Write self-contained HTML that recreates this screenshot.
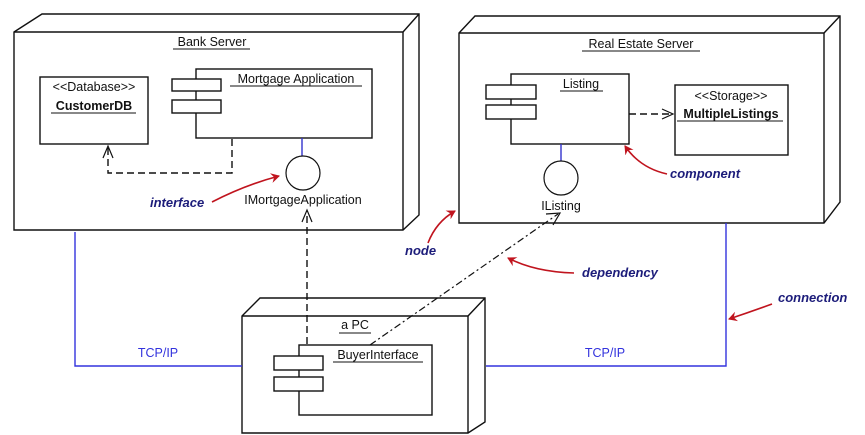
<!DOCTYPE html>
<html><head><meta charset="utf-8"><style>
html,body{margin:0;padding:0;background:#fff;}
svg{display:block;}
text{font-family:"Liberation Sans",sans-serif;font-size:12.5px;fill:#111;}
.lbl{font-style:italic;font-weight:bold;fill:#1c1c7a;font-size:13px;}
.b{fill:#fff;stroke:#111;stroke-width:1.4;}
</style></head><body>
<svg width="865" height="435" viewBox="0 0 865 435" xmlns="http://www.w3.org/2000/svg">
<defs>
<marker id="ra" markerWidth="10" markerHeight="10" refX="8" refY="5" orient="auto" markerUnits="userSpaceOnUse"><path d="M0,0 L9,5 L0,10 L3,5 Z" fill="#c0141e"/></marker>
</defs>
<polygon class="b" points="14,32 42,14 419,14 419,215 403,230 14,230"/>
<polyline points="14,32 403,32 419,14" fill="none" stroke="#111" stroke-width="1.4"/>
<line x1="403" y1="32" x2="403" y2="230" stroke="#111" stroke-width="1.4"/>
<text x="212" y="46" text-anchor="middle">Bank Server</text>
<line x1="173" y1="49" x2="250" y2="49" stroke="#111"/>
<rect class="b" x="40" y="77" width="108" height="67"/>
<text x="94" y="91" text-anchor="middle" font-size="11.5">&lt;&lt;Database&gt;&gt;</text>
<text x="94" y="110" text-anchor="middle" font-weight="bold">CustomerDB</text>
<line x1="51" y1="113" x2="136" y2="113" stroke="#111"/>
<rect class="b" x="196" y="69" width="176" height="69"/>
<rect class="b" x="172" y="79" width="49" height="12"/>
<rect class="b" x="172" y="100" width="49" height="13"/>
<text x="296" y="83" text-anchor="middle">Mortgage Application</text>
<line x1="230" y1="86" x2="362" y2="86" stroke="#111"/>
<line x1="302" y1="138" x2="302" y2="156" stroke="#3333cc" stroke-width="1.4"/>
<circle cx="303" cy="173" r="17" fill="#fff" stroke="#111" stroke-width="1.2"/>
<text x="303" y="204" text-anchor="middle">IMortgageApplication</text>
<polyline points="232,139 232,173 108,173 108,148" fill="none" stroke="#111" stroke-width="1.4" stroke-dasharray="7,4"/>
<polyline points="103,158 108,146 113,158" fill="none" stroke="#111" stroke-width="1.2"/>
<text x="150" y="207" class="lbl">interface</text>
<path d="M212,202 Q245,185 279,176" fill="none" stroke="#c0141e" stroke-width="1.6" marker-end="url(#ra)"/>
<polygon class="b" points="459,33 475,16 840,16 840,202 824,223 459,223"/>
<polyline points="459,33 824,33 840,16" fill="none" stroke="#111" stroke-width="1.4"/>
<line x1="824" y1="33" x2="824" y2="223" stroke="#111" stroke-width="1.4"/>
<text x="641" y="48" text-anchor="middle">Real Estate Server</text>
<line x1="582" y1="51" x2="700" y2="51" stroke="#111"/>
<rect class="b" x="511" y="74" width="118" height="70"/>
<rect class="b" x="486" y="85" width="50" height="14"/>
<rect class="b" x="486" y="105" width="50" height="14"/>
<text x="581" y="88" text-anchor="middle">Listing</text>
<line x1="560" y1="91" x2="603" y2="91" stroke="#111"/>
<rect class="b" x="675" y="85" width="113" height="70"/>
<text x="731" y="100" text-anchor="middle" font-size="11.5">&lt;&lt;Storage&gt;&gt;</text>
<text x="731" y="118" text-anchor="middle" font-weight="bold">MultipleListings</text>
<line x1="677" y1="121" x2="783" y2="121" stroke="#111"/>
<line x1="629" y1="114" x2="672" y2="114" stroke="#111" stroke-width="1.4" stroke-dasharray="7,4"/>
<polyline points="662,109 673,114 662,119" fill="none" stroke="#111" stroke-width="1.2"/>
<line x1="561" y1="144" x2="561" y2="161" stroke="#3333cc" stroke-width="1.4"/>
<circle cx="561" cy="178" r="17" fill="#fff" stroke="#111" stroke-width="1.2"/>
<text x="561" y="210" text-anchor="middle">IListing</text>
<text x="670" y="178" class="lbl">component</text>
<path d="M667,174 Q640,168 625,146" fill="none" stroke="#c0141e" stroke-width="1.6" marker-end="url(#ra)"/>
<polygon class="b" points="242,316 260,298 485,298 485,422 468,433 242,433"/>
<polyline points="242,316 468,316 485,298" fill="none" stroke="#111" stroke-width="1.4"/>
<line x1="468" y1="316" x2="468" y2="433" stroke="#111" stroke-width="1.4"/>
<text x="355" y="329" text-anchor="middle">a PC</text>
<line x1="339" y1="333" x2="371" y2="333" stroke="#111"/>
<rect class="b" x="299" y="345" width="133" height="70"/>
<rect class="b" x="274" y="356" width="49" height="14"/>
<rect class="b" x="274" y="377" width="49" height="14"/>
<text x="378" y="359" text-anchor="middle">BuyerInterface</text>
<line x1="333" y1="362" x2="423" y2="362" stroke="#111"/>
<line x1="307" y1="344" x2="307" y2="211" stroke="#111" stroke-width="1.4" stroke-dasharray="7,4"/>
<polyline points="302,222 307,210 312,222" fill="none" stroke="#111" stroke-width="1.2"/>
<line x1="370" y1="345" x2="558" y2="214" stroke="#111" stroke-width="1.2" stroke-dasharray="7,3,2,3"/>
<polyline points="546,214 560,213 553,225" fill="none" stroke="#111" stroke-width="1.2"/>
<polyline points="75,232 75,366 242,366" fill="none" stroke="#3333dd" stroke-width="1.4"/>
<polyline points="726,223 726,366 486,366" fill="none" stroke="#3333dd" stroke-width="1.4"/>
<text x="158" y="357" text-anchor="middle" style="fill:#3333dd">TCP/IP</text>
<text x="605" y="357" text-anchor="middle" style="fill:#3333dd">TCP/IP</text>
<text x="405" y="255" class="lbl">node</text>
<path d="M428,243 Q436,222 455,211" fill="none" stroke="#c0141e" stroke-width="1.6" marker-end="url(#ra)"/>
<text x="582" y="277" class="lbl">dependency</text>
<path d="M574,273 Q535,272 508,258" fill="none" stroke="#c0141e" stroke-width="1.6" marker-end="url(#ra)"/>
<text x="778" y="302" class="lbl">connection</text>
<path d="M772,304 Q750,312 729,319" fill="none" stroke="#c0141e" stroke-width="1.6" marker-end="url(#ra)"/>
</svg>
</body></html>
